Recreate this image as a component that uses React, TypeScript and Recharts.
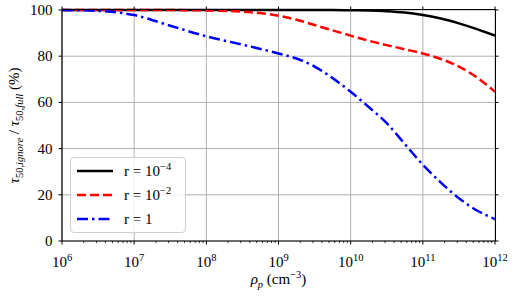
import React from "react";
import { LineChart, Line, XAxis, YAxis, CartesianGrid } from "recharts";

if (typeof document !== "undefined") document.body.style.margin = "0";

// log10 of particle density (cm^-3)
const exponents = [6, 6.5, 7, 7.5, 8, 8.5, 9, 9.25, 9.5, 9.75, 10, 10.25, 10.5, 10.75, 11, 11.25, 11.5, 11.75, 12];
const rSmall = [100, 100, 100, 100, 100, 100, 100, 100, 100, 100, 99.9, 99.8, 99.5, 98.9, 97.8, 96.3, 94.2, 91.7, 88.9];
const rMid = [100, 100, 100, 100, 99.8, 99.3, 97.5, 95.8, 93.5, 91.2, 88.9, 86.7, 84.8, 83, 81.2, 78.8, 75.5, 70.8, 64.6];
const rOne = [100, 99.6, 97.8, 93.2, 88.6, 85, 81.2, 79, 75.5, 70.5, 64.6, 58, 51, 42, 33, 25.3, 18.5, 13.2, 9.5];

const majorTicks = [1e6, 1e7, 1e8, 1e9, 1e10, 1e11, 1e12];
const minorTicks = majorTicks.slice(0, -1).flatMap((d) => [2, 3, 4, 5, 6, 7, 8, 9].map((m) => m * d));
const allXTicks = [...majorTicks, ...minorTicks].sort((a, b) => a - b);
const yTicks = [0, 20, 40, 60, 80, 100];

const data = exponents.map((e, i) => ({ rho: Math.pow(10, e), a: rSmall[i], b: rMid[i], c: rOne[i] }));

const FONT = "Liberation Serif";

// layout
const W = 515;
const H = 300;
const MARGIN = { top: 10, right: 20, bottom: 29, left: 12 };
const Y_AXIS_W = 50;
const X_AXIS_H = 30;
const PLOT_LEFT = MARGIN.left + Y_AXIS_W;
const PLOT_RIGHT = W - MARGIN.right;
const PLOT_TOP = MARGIN.top;
const PLOT_BOTTOM = H - MARGIN.bottom - X_AXIS_H;
const TICK = 3.5;

const isMajor = (v: number) => Math.abs(Math.log10(v) - Math.round(Math.log10(v))) < 1e-6;

const XTick = ({ x, y, payload }: any) => {
  const major = isMajor(payload.value);
  const exp = Math.round(Math.log10(payload.value));
  return (
    <g>
      <line x1={x} y1={y} x2={x} y2={y + (major ? TICK : 2)} stroke="#000" strokeWidth={major ? 1 : 0.8} />
      {major && <line x1={x} y1={PLOT_TOP} x2={x} y2={PLOT_TOP - TICK} stroke="#000" strokeWidth={1} />}
      {major && (
        <text x={x} y={y + 25.7} textAnchor="middle" fontFamily={FONT} fontSize={15} fill="#000">
          <tspan>10</tspan>
          <tspan dy={-6} fontSize={10.5}>{exp}</tspan>
        </text>
      )}
    </g>
  );
};

const YTick = ({ x, y, payload }: any) => (
  <g>
    <line x1={PLOT_RIGHT} y1={y} x2={PLOT_RIGHT + TICK} y2={y} stroke="#000" strokeWidth={1} />
    <text x={x} y={y} dy={5} textAnchor="end" fontFamily={FONT} fontSize={15} fill="#000">
      {payload.value}
    </text>
  </g>
);

const XLabel = ({ viewBox }: any) => (
  <text x={viewBox.x + viewBox.width / 2} y={284} textAnchor="middle" fontFamily={FONT} fontSize={15} fill="#000">
    <tspan fontStyle="italic">ρ</tspan>
    <tspan dy={4} fontSize={10.5} fontStyle="italic">p</tspan>
    <tspan dy={-4}> (cm</tspan>
    <tspan dy={-6} fontSize={10.5}>−3</tspan>
    <tspan dy={6}>)</tspan>
  </text>
);

const YLabel = ({ viewBox }: any) => {
  const cx = 19;
  const cy = viewBox.y + viewBox.height / 2;
  return (
    <text x={cx} y={cy} transform={`rotate(-90 ${cx} ${cy})`} textAnchor="middle" fontFamily={FONT} fontSize={15} fill="#000">
      <tspan fontStyle="italic">τ</tspan>
      <tspan dy={4} fontSize={10.5}>50,</tspan>
      <tspan fontSize={10.5} fontStyle="italic">ignore</tspan>
      <tspan dy={-4}> / </tspan>
      <tspan fontStyle="italic">τ</tspan>
      <tspan dy={4} fontSize={10.5}>50,</tspan>
      <tspan fontSize={10.5} fontStyle="italic">full</tspan>
      <tspan dy={-4}> (%)</tspan>
    </text>
  );
};

const legendItems = [
  { color: "#000000", dash: undefined, label: "−4" },
  { color: "#ff0000", dash: "9 4", label: "−2" },
  { color: "#0000ff", dash: "11 4 2.5 4", label: null },
];

function ChartLegend() {
  return (
    <div
      style={{
        position: "absolute",
        left: 70,
        top: 157,
        width: 116,
        height: 76,
        boxSizing: "border-box",
        border: "1px solid #d0d0d0",
        borderRadius: 4,
        background: "rgba(255,255,255,0.8)",
        fontFamily: FONT,
        fontSize: 15,
      }}
    >
      {legendItems.map((it, i) => (
        <div key={i} style={{ position: "absolute", left: 5, top: 3 + i * 24, height: 20, display: "flex", alignItems: "center" }}>
          <svg width={38} height={10}>
            <line x1={1} y1={5} x2={37} y2={5} stroke={it.color} strokeWidth={2.5} strokeDasharray={it.dash} />
          </svg>
          <span style={{ marginLeft: 10, whiteSpace: "nowrap" }}>
            r = {it.label ? <>10<sup style={{ fontSize: 10.5, verticalAlign: "6px", lineHeight: 0 }}>{it.label}</sup></> : "1"}
          </span>
        </div>
      ))}
    </div>
  );
}

// top and right spines of the axes box
function Frame() {
  return (
    <div
      style={{
        position: "absolute",
        left: PLOT_LEFT,
        top: PLOT_TOP - 0.6,
        width: PLOT_RIGHT - PLOT_LEFT + 0.6,
        height: PLOT_BOTTOM - PLOT_TOP + 0.6,
        boxSizing: "border-box",
        borderTop: "1.2px solid #000",
        borderRight: "1.2px solid #000",
        pointerEvents: "none",
      }}
    />
  );
}

export default function App() {
  const axisColor = "#000";
  return (
    <div style={{ position: "relative", width: W, height: H, background: "#fff" }}>
      <LineChart width={W} height={H} data={data} margin={MARGIN} style={{ fontFamily: FONT }}>
        <CartesianGrid stroke="#b0b0b0" strokeWidth={1} verticalValues={majorTicks} />
        <XAxis
          dataKey="rho"
          type="number"
          scale="log"
          domain={[1e6, 1e12]}
          ticks={allXTicks}
          interval={0}
          allowDataOverflow
          height={X_AXIS_H}
          tickSize={0}
          tickMargin={0}
          tick={<XTick />}
          axisLine={{ stroke: axisColor, strokeWidth: 1.2 }}
          tickLine={false}
          label={<XLabel />}
        />
        <YAxis
          type="number"
          domain={[0, 100]}
          ticks={yTicks}
          interval={0}
          width={Y_AXIS_W}
          tickSize={TICK}
          tickMargin={6}
          tick={<YTick />}
          axisLine={{ stroke: axisColor, strokeWidth: 1.2 }}
          tickLine={{ stroke: axisColor }}
          label={<YLabel />}
        />
        <Line type="monotone" dataKey="a" stroke="#000000" strokeWidth={2.5} dot={false} isAnimationActive={false} />
        <Line type="monotone" dataKey="b" stroke="#ff0000" strokeWidth={2.5} strokeDasharray="9 4" dot={false} isAnimationActive={false} />
        <Line type="monotone" dataKey="c" stroke="#0000ff" strokeWidth={2.5} strokeDasharray="11 4 2.5 4" dot={false} isAnimationActive={false} />
      </LineChart>
      <Frame />
      <ChartLegend />
    </div>
  );
}
